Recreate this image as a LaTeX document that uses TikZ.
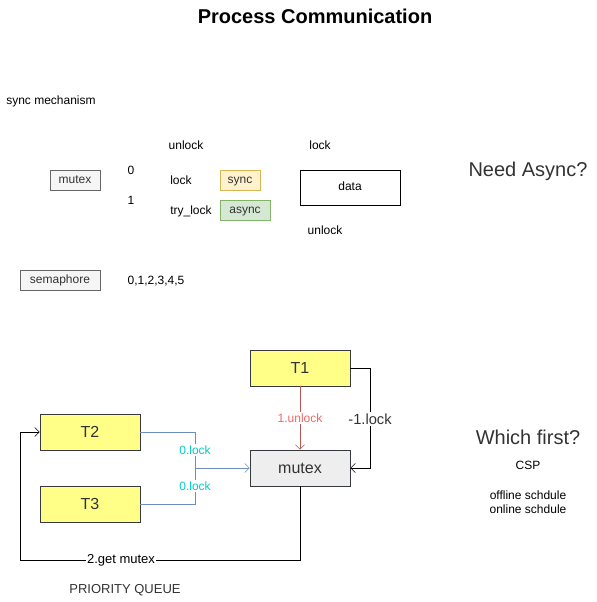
\documentclass[tikz,border=0pt]{standalone}
\usepackage{fontspec}
\setmainfont{Liberation Sans}
\usetikzlibrary{arrows.meta}
\definecolor{grayfill}{HTML}{F5F5F5}
\definecolor{grayline}{HTML}{666666}
\definecolor{syncfill}{HTML}{FFF2CC}
\definecolor{syncline}{HTML}{D6B656}
\definecolor{asyncfill}{HTML}{D5E8D4}
\definecolor{asyncline}{HTML}{82B366}
\definecolor{tfill}{HTML}{FFFF88}
\definecolor{tline}{HTML}{36393D}
\definecolor{mfill}{HTML}{EEEEEE}
\definecolor{redline}{HTML}{B85450}
\definecolor{redtext}{HTML}{EA6B66}
\definecolor{blueline}{HTML}{6C8EBF}
\definecolor{cyantext}{HTML}{00CCCC}
\definecolor{txt}{HTML}{333333}
\tikzset{
  px/.style={x=0.75pt,y=-0.75pt},
  lbl/.style={inner sep=0pt,font=\fontsize{9}{10.5}\selectfont,text height=6.5pt,text depth=1.9pt},
  smallbox/.style={draw=grayline,fill=grayfill,minimum height=15pt,inner sep=0pt,font=\fontsize{9}{10.5}\selectfont,text height=6.5pt,text depth=1.9pt,text=txt},
  tbox/.style={draw=tline,fill=tfill,minimum width=75pt,minimum height=27pt,inner sep=0pt,font=\fontsize{12}{14}\selectfont,text=txt},
  edgelbl/.style={fill=white,inner sep=1pt,font=\fontsize{9}{11}\selectfont},
  arr/.style={-{Straight Barb[length=3.5pt,width=7pt]}},
}
\begin{document}
\begin{tikzpicture}[px]
\useasboundingbox (0,0) rectangle (596,602);
\node[font=\bfseries\fontsize{15}{18}\selectfont] (title) at (315,16) {Process Communication};
\node[lbl,anchor=west] (syncmech) at (6,101) {sync mechanism};
\node[lbl] (unlock1) at (186,146) {unlock};
\node[lbl] (lock1) at (320,146) {lock};
\node[smallbox,minimum width=37.5pt] (mutexa) at (75,180) {mutex};
\node[lbl] (zero) at (131,171) {0};
\node[lbl] (one) at (131,201) {1};
\node[lbl] (lock2) at (181,181) {lock};
\node[smallbox,draw=syncline,fill=syncfill,minimum width=30pt] (sync) at (240,180) {sync};
\node[lbl] (trylock) at (191,211) {try\_lock};
\node[smallbox,draw=asyncline,fill=asyncfill,minimum width=37.5pt] (async) at (245,210) {async};
\node[draw=black,minimum width=75pt,minimum height=26.25pt,inner sep=0pt,lbl] (data) at (350,187.5) {data};
\node[lbl] (unlock2) at (325,231) {unlock};
\node[smallbox,minimum width=60pt] (sema) at (60,280) {semaphore};
\node[lbl] (nums) at (156,281) {0,1,2,3,4,5};
\node[font=\fontsize{15}{18}\selectfont,text=txt] (needasync) at (528,171) {Need Async?};
\node[font=\fontsize{15}{18}\selectfont,text=txt] (whichfirst) at (528,437) {Which first?};
\node[lbl] (csp) at (528,466) {CSP};
\node[inner sep=0pt,font=\fontsize{9}{10.5}\selectfont,align=center] (sched) at (528,502) {offline schdule\\online schdule};
\node[tbox] (t1) at (300,368) {T1};
\node[tbox] (t2) at (90,432) {T2};
\node[tbox] (t3) at (90,504) {T3};
\node[tbox,fill=mfill] (mutexb) at (300,468) {mutex};
\coordinate (j) at (195,468);
\coordinate (rb) at (370,368);
\coordinate (bl) at (20,560);
\draw[redline,arr] (t1) -- node[edgelbl,text=redtext,pos=0.5] (l1) {1.unlock} (mutexb);
\draw[black,arr] (t1.east) -- (rb) -- (mutexb.east -| rb) -- (mutexb.east);
\node[edgelbl,text=txt,font=\fontsize{11}{13}\selectfont] (l2) at (370,419) {-1.lock};
\draw[blueline] (t2.east) -| (j) node[edgelbl,text=cyantext,pos=0.75] (l3) {0.lock};
\draw[blueline] (t3.east) -| (j) node[edgelbl,text=cyantext,pos=0.75] (l4) {0.lock};
\draw[blueline,arr] (j) -- (mutexb.west);
\draw[black,arr] (mutexb.south) |- (bl) |- (t2.west);
\node[edgelbl,text=black,font=\fontsize{9.75}{11}\selectfont,inner sep=0.5pt] (l5) at (121,560) {2.get mutex};
\node[font=\fontsize{9.75}{11}\selectfont,text=txt] (pq) at (125,590) {PRIORITY QUEUE};
\end{tikzpicture}
\end{document}
